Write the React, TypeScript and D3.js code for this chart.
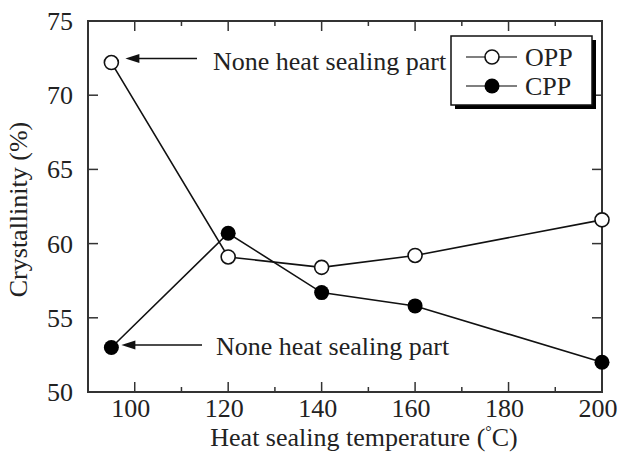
import React from "react";
import * as d3 from "d3";

const temperatures = [95, 120, 140, 160, 200];
const oppValues = [72.2, 59.1, 58.4, 59.2, 61.6];
const cppValues = [53.0, 60.7, 56.7, 55.8, 52.0];
const xTicks = [100, 120, 140, 160, 180, 200];
const xMinorTicks = [110, 130, 150, 170, 190];
const yTicks = [50, 55, 60, 65, 70, 75];
const seriesNames = ["OPP", "CPP"];
const annotationText = "None heat sealing part";

const W = 618;
const H = 457;
const L = 88, R = 602, T = 21, B = 392;
const FONT = "'Liberation Serif', 'Times New Roman', Times, serif";

export default function App() {
  const x = d3.scaleLinear().domain([90, 200]).range([L, R]);
  const y = d3.scaleLinear().domain([50, 75]).range([B, T]);
  const line = d3
    .line<number>()
    .x((_, i) => x(temperatures[i]))
    .y((d) => y(d));

  const axisColor = "#333";
  const fs = 26;

  const arrow = (tipX: number, tailX: number, yy: number) => (
    <g>
      <line x1={tipX + 12} x2={tailX} y1={yy} y2={yy} stroke="#111" strokeWidth={1.6} />
      <path d={`M${tipX},${yy} L${tipX + 14},${yy - 4.5} L${tipX + 14},${yy + 4.5} Z`} fill="#111" />
    </g>
  );

  return (
    <svg
      width={W}
      height={H}
      style={{ position: "absolute", left: 0, top: 0, background: "#fff" }}
      fontFamily={FONT}
    >
      <rect x={0} y={0} width={W} height={H} fill="#fff" />
      {/* frame */}
      <rect x={L} y={T} width={R - L} height={B - T} fill="none" stroke={axisColor} strokeWidth={2} />
      {/* x ticks */}
      {xTicks.map((t) => (
        <g key={"xt" + t}>
          <line x1={x(t)} x2={x(t)} y1={B} y2={B - 10} stroke={axisColor} strokeWidth={1.5} />
          <line x1={x(t)} x2={x(t)} y1={T} y2={T + 10} stroke={axisColor} strokeWidth={1.5} />
          <text x={x(t) - 4} y={417} textAnchor="middle" fontSize={fs} fill="#222">
            {t}
          </text>
        </g>
      ))}
      {xMinorTicks.map((t) => (
        <g key={"xm" + t}>
          <line x1={x(t)} x2={x(t)} y1={B} y2={B - 5} stroke={axisColor} strokeWidth={1.5} />
          <line x1={x(t)} x2={x(t)} y1={T} y2={T + 5} stroke={axisColor} strokeWidth={1.5} />
        </g>
      ))}
      {/* y ticks */}
      {yTicks.map((t) => (
        <g key={"yt" + t}>
          <line x1={L} x2={L + 10} y1={y(t)} y2={y(t)} stroke={axisColor} strokeWidth={1.5} />
          <line x1={R} x2={R - 10} y1={y(t)} y2={y(t)} stroke={axisColor} strokeWidth={1.5} />
          <text x={73} y={y(t) + 9} textAnchor="end" fontSize={fs} fill="#222">
            {t}
          </text>
        </g>
      ))}
      {/* axis titles */}
      <text x={364} y={446} textAnchor="middle" fontSize={fs} fill="#222">
        Heat sealing temperature (
        <tspan fontSize={16} dy={-9}>°</tspan>
        <tspan dy={9}>C)</tspan>
      </text>
      <text
        transform={`translate(27,${(T + B) / 2 + 3}) rotate(-90)`}
        textAnchor="middle"
        fontSize={fs}
        fill="#222"
      >
        Crystallinity (%)
      </text>
      {/* lines */}
      <path d={line(oppValues) || ""} fill="none" stroke="#111" strokeWidth={1.6} />
      <path d={line(cppValues) || ""} fill="none" stroke="#111" strokeWidth={1.6} />
      {oppValues.map((v, i) => (
        <circle key={"o" + i} cx={x(temperatures[i])} cy={y(v)} r={7} fill="#fff" stroke="#111" strokeWidth={1.6} />
      ))}
      {cppValues.map((v, i) => (
        <circle key={"c" + i} cx={x(temperatures[i])} cy={y(v)} r={7.5} fill="#000" />
      ))}
      {/* annotations */}
      {arrow(x(temperatures[0]) + 14, 197, y(oppValues[0]) - 4)}
      <text x={213} y={70} fontSize={fs} fill="#222">
        {annotationText}
      </text>
      {arrow(x(temperatures[0]) + 10, 202, y(cppValues[0]) - 2.5)}
      <text x={216} y={355} fontSize={fs} fill="#222">
        {annotationText}
      </text>
      {/* legend */}
      <rect x={455} y={40} width={141} height={69} fill="#000" />
      <rect x={451} y={36} width={141} height={69} fill="#fff" stroke="#111" strokeWidth={1.5} />
      {seriesNames.map((n, i) => {
        const yy = 57 + i * 29;
        return (
          <g key={n}>
            <line x1={466} x2={517} y1={yy} y2={yy} stroke="#555" strokeWidth={1.6} />
            {i === 0 ? (
              <circle cx={492} cy={yy} r={7} fill="#fff" stroke="#111" strokeWidth={1.6} />
            ) : (
              <circle cx={492} cy={yy} r={7.5} fill="#000" />
            )}
            <text x={525} y={yy + 9} fontSize={fs} fill="#222">
              {n}
            </text>
          </g>
        );
      })}
    </svg>
  );
}
